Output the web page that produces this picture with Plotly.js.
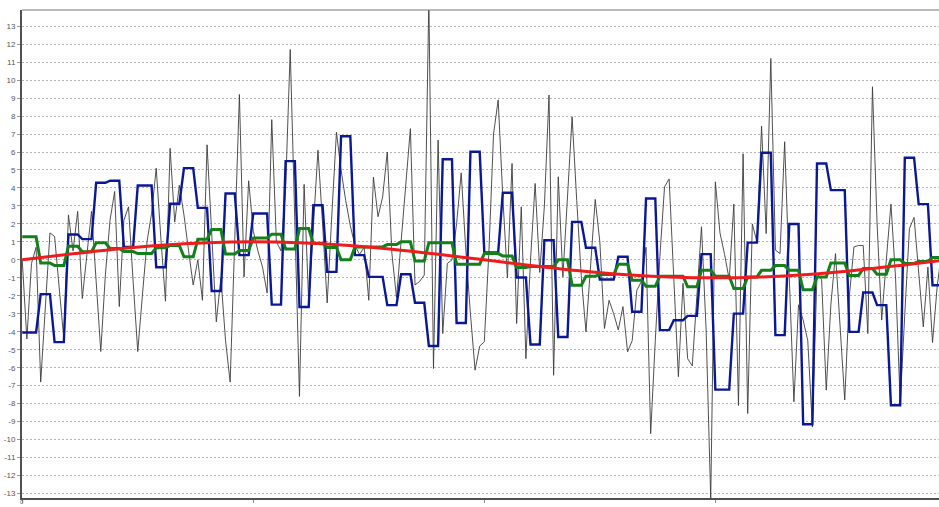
<!DOCTYPE html>
<html>
<head>
<meta charset="utf-8">
<script src="https://cdn.plot.ly/plotly-3.0.1.min.js"></script>
<style>
  html, body { margin: 0; padding: 0; background: #ffffff; }
  #chart { width: 939px; height: 507px; }
</style>
</head>
<body>
<div id="chart"></div>
<script>
// Raw signal, one value per sample (index 0..199)
const rawSignal = [
  0.0, -4.4, -0.2, 0.7, -6.8, -2.6, 1.5, 1.3, -1.5, -4.4,
  2.5, 0.5, 2.7, -2.15, 0.3, 2.7, -1.2, -5.1, -0.8, 2.2,
  3.8, -2.6, 2.2, 2.95, -1.2, -5.1, -2.0, 1.0, 2.6, 5.1,
  1.2, -2.3, 6.2, 2.1, 4.15, 2.5, 0.5, -1.4, 0.0, -2.25,
  6.4, 1.5, -3.45, -1.0, -4.5, -6.8, 1.0, 9.2, -0.95, 4.4,
  1.6, 0.5, -0.4, -1.85, 7.8, 1.0, 0.5, 4.0, 11.7, 2.0,
  -7.6, 4.2, -2.4, 1.8, 6.1, 2.0, -2.4, 2.5, 7.1, 5.0,
  3.3, 1.9, 0.8, 0.3, 0.7, -2.25, 4.6, 2.4, 3.5, 6.0,
  0.35, -2.1, 1.0, 4.2, 7.3, -1.4, -1.2, -0.85, 14.5, -6.05,
  6.66, -4.1, -0.2, 0.0, 2.0, 4.84, 0.5, -3.0, -6.14, -4.8,
  -4.56, 0.5, 7.0, 8.9, 3.5, -1.0, 5.36, -3.54, 2.95, -5.5,
  0.0, 4.25, -0.7, 3.0, 9.17, -6.42, 4.62, -0.95, 3.5, 7.96,
  3.3, -1.0, -4.0, 0.0, 3.36, 1.0, -3.82, -2.25, -3.0, -3.9,
  -2.6, -5.12, -4.5, -1.7, -1.2, 0.7, -9.67, -4.5, 0.2, 4.06,
  4.5, -1.0, -6.5, -1.3, -5.5, -5.9, -2.0, 1.84, -3.9, -13.3,
  4.34, 1.5, 0.3, -1.1, 3.1, -8.1, 5.9, -8.55, 2.0, 1.0,
  7.44, 1.46, 11.2, 0.54, 0.35, 6.57, -1.0, -7.9, -2.5, -3.35,
  -4.5, -9.3, -0.76, -1.1, -7.25, -2.5, 0.35, -3.5, -7.8, -2.0,
  0.72, 0.8, 0.8, -4.1, 9.63, 2.0, -3.35, 0.0, 3.1, -1.0,
  -8.0, -3.0, 1.74, 2.36, -0.5, -3.73, -0.4, -4.6, -1.5, 0.5
];

// Block-held values (blue), one value per sample
const heldSignal = [
  -4.04, -4.04, -4.04, -4.04, -1.91, -1.91, -1.91, -4.58, -4.58, -4.58, 1.41, 1.41, 1.41, 1.15, 1.15, 1.15, 4.29, 4.29, 4.29, 4.40, 4.40, 4.40, 0.72, 0.72, 0.72,
  4.14, 4.14, 4.14, 4.14, -0.41, -0.41, -0.41, 3.12, 3.12, 3.12, 5.10, 5.10, 5.10, 2.89, 2.89, 2.89, -1.73, -1.73, -1.73, 3.69, 3.69, 3.69, 0.26, 0.26, 0.26,
  2.58, 2.58, 2.58, 2.58, -2.49, -2.49, -2.49, 5.49, 5.49, 5.49, -2.62, -2.62, -2.62, 3.04, 3.04, 3.04, -0.67, -0.67, -0.67, 6.88, 6.88, 6.88, 0.26, 0.26, 0.26,
  -0.95, -0.95, -0.95, -0.95, -2.52, -2.52, -2.52, -0.80, -0.80, -0.80, -2.39, -2.39, -2.39, -4.79, -4.79, -4.79, 5.60, 5.60, 5.60, -3.51, -3.51, -3.51, 6.01, 6.01, 6.01,
  0.41, 0.41, 0.41, 0.41, 3.73, 3.73, 3.73, -0.98, -0.98, -0.98, -4.71, -4.71, -4.71, 1.09, 1.09, 1.09, -4.29, -4.29, -4.29, 2.11, 2.11, 2.11, 0.67, 0.67, 0.67,
  -1.09, -1.09, -1.09, -1.09, 0.17, 0.17, 0.17, -2.89, -2.89, -2.89, 3.41, 3.41, 3.41, -3.91, -3.91, -3.91, -3.36, -3.36, -3.36, -3.12, -3.12, -3.12, 0.32, 0.32, 0.32,
  -7.22, -7.22, -7.22, -7.22, -2.99, -2.99, -2.99, 0.96, 0.96, 0.96, 5.96, 5.96, 5.96, -4.19, -4.19, -4.19, 1.99, 1.99, 1.99, -9.15, -9.15, -9.15, 5.36, 5.36, 5.36,
  3.88, 3.88, 3.88, 3.88, -4.01, -4.01, -4.01, -1.82, -1.82, -1.82, -2.52, -2.52, -2.52, -8.09, -8.09, -8.09, 5.68, 5.68, 5.68, 3.10, 3.10, 3.10, -1.41, -1.41, -1.41
];

// Smoothed block values (green), one value per sample
const smoothSignal = [
  1.28, 1.28, 1.28, 1.28, -0.17, -0.17, -0.17, -0.32, -0.32, -0.32, 0.76, 0.76, 0.76, 0.45, 0.45, 0.45, 0.95, 0.95, 0.95, 0.63, 0.63, 0.63, 0.46, 0.46, 0.46,
  0.35, 0.35, 0.35, 0.35, 0.67, 0.67, 0.67, 0.80, 0.80, 0.80, 0.17, 0.17, 0.17, 1.15, 1.15, 1.15, 1.69, 1.69, 1.69, 0.33, 0.33, 0.33, 0.52, 0.52, 0.52,
  1.22, 1.22, 1.22, 1.22, 1.43, 1.43, 1.43, 0.61, 0.61, 0.61, 1.74, 1.74, 1.74, 0.93, 0.93, 0.93, 0.69, 0.69, 0.69, 0.00, 0.00, 0.00, 0.72, 0.72, 0.72,
  0.72, 0.72, 0.72, 0.72, 0.85, 0.85, 0.85, 1.00, 1.00, 1.00, -0.06, -0.06, -0.06, 0.95, 0.95, 0.95, 0.95, 0.95, 0.95, -0.24, -0.24, -0.24, -0.24, -0.24, -0.24,
  0.35, 0.35, 0.35, 0.35, 0.22, 0.22, 0.22, -0.43, -0.43, -0.43, -0.37, -0.37, -0.37, -0.37, -0.37, -0.37, 0.00, 0.00, 0.00, -1.41, -1.41, -1.41, -0.91, -0.91, -0.91,
  -0.82, -0.82, -0.82, -0.82, -0.24, -0.24, -0.24, -1.13, -1.13, -1.13, -1.47, -1.47, -1.47, -0.91, -0.91, -0.91, -0.91, -0.91, -0.91, -1.50, -1.50, -1.50, -0.58, -0.58, -0.58,
  -0.91, -0.91, -0.91, -0.91, -1.60, -1.60, -1.60, -0.95, -0.95, -0.95, -0.58, -0.58, -0.58, -0.32, -0.32, -0.32, -0.58, -0.58, -0.58, -1.67, -1.67, -1.67, -0.95, -0.95, -0.95,
  -0.17, -0.17, -0.17, -0.17, -0.87, -0.87, -0.87, -0.48, -0.48, -0.48, -0.80, -0.80, -0.80, 0.00, 0.00, 0.00, -0.20, -0.20, -0.20, -0.09, -0.09, -0.09, 0.13, 0.13, 0.13
];

// Underlying slow wave (red), read every 10 samples
const waveIndex = [0, 10, 20, 30, 40, 50, 60, 70, 80, 90, 100, 110, 120, 130, 140, 150, 160, 170, 180, 190, 199];
const waveValues = [0.00, 0.31, 0.59, 0.81, 0.95, 1.00, 0.95, 0.81, 0.59, 0.31, 0.00, -0.31, -0.59, -0.81, -0.95, -1.00, -0.95, -0.81, -0.59, -0.31, -0.03];

// Axis ticks
const yTickValues = [13, 12, 11, 10, 9, 8, 7, 6, 5, 4, 3, 2, 1, 0, -1, -2, -3, -4, -5, -6, -7, -8, -9, -10, -11, -12, -13];
const yTickLabels = ["13", "12", "11", "10", "9", "8", "7", "6", "5", "4", "3", "2", "1", "0", "-1", "-2", "-3", "-4", "-5", "-6", "-7", "-8", "-9", "-10", "-11", "-12", "-13"];
const xTickValues = [0, 50, 100, 150];
const xOriginLabel = "0";

const sampleIndex = rawSignal.map((_, i) => i);

const traces = [
  {
    x: sampleIndex, y: rawSignal, type: "scatter", mode: "lines",
    line: { color: "#3c3c3c", width: 0.9 }, hoverinfo: "skip"
  },
  {
    x: sampleIndex, y: heldSignal, type: "scatter", mode: "lines",
    line: { color: "#0a1896", width: 2.4 }, hoverinfo: "skip"
  },
  {
    x: sampleIndex, y: smoothSignal, type: "scatter", mode: "lines",
    line: { color: "#13801a", width: 3 }, hoverinfo: "skip"
  },
  {
    x: waveIndex, y: waveValues, type: "scatter", mode: "lines",
    line: { color: "#ee1c1c", width: 3, shape: "spline" }, hoverinfo: "skip"
  }
];

const layout = {
  width: 939,
  height: 507,
  margin: { l: 22, r: 0, t: 10, b: 9, pad: 0 },
  paper_bgcolor: "#ffffff",
  plot_bgcolor: "#ffffff",
  showlegend: false,
  xaxis: {
    range: [-0.05, 198.4],
    tickvals: xTickValues,
    showticklabels: false,
    ticks: "outside",
    ticklen: 3,
    tickcolor: "#888888",
    showgrid: false,
    zeroline: false,
    showline: true,
    linecolor: "#505050",
    linewidth: 2
  },
  yaxis: {
    range: [-13.25, 13.9],
    tickvals: yTickValues,
    ticktext: yTickLabels,
    ticks: "outside",
    ticklen: 3,
    tickcolor: "#999999",
    tickfont: { family: "Liberation Sans, Arial, sans-serif", size: 8, color: "#555555" },
    showgrid: true,
    gridcolor: "#b4b4b4",
    gridwidth: 1,
    griddash: "2px,2px",
    zeroline: false,
    showline: true,
    linecolor: "#505050",
    linewidth: 2
  },
  annotations: [
    {
      // origin label under the left end of the x axis
      text: xOriginLabel,
      xref: "x", yref: "paper",
      x: 0, y: -0.0164,
      xanchor: "center", yanchor: "bottom",
      showarrow: false,
      borderpad: 0,
      font: { family: "Liberation Sans, Arial, sans-serif", size: 6, color: "#666666" }
    }
  ],
  shapes: [
    {
      type: "line", xref: "paper", yref: "paper",
      x0: 0, x1: 1, y0: 1, y1: 1,
      line: { color: "#777777", width: 1 }
    }
  ]
};

Plotly.newPlot("chart", traces, layout, { staticPlot: true, displayModeBar: false });
</script>
</body>
</html>
